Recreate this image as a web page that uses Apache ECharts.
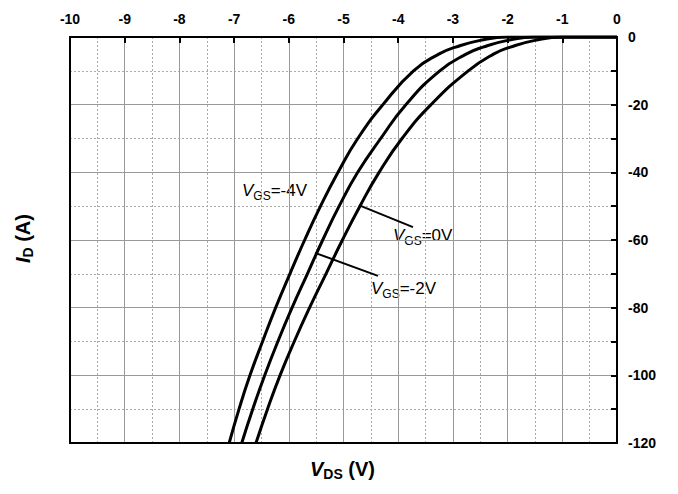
<!DOCTYPE html>
<html>
<head>
<meta charset="utf-8">
<script src="https://cdn.jsdelivr.net/npm/echarts@6/dist/echarts.min.js"></script>
<style>
  html, body { margin: 0; padding: 0; background: #fff; }
  #chart { width: 678px; height: 494px; }
</style>
</head>
<body>
<div id="chart"></div>
<script>
// Drain current levels (A), shared by the three curves
const idLevels = [0, 0, -1, -3, -5, -10, -20, -30, -40, -50, -60, -70, -80, -90, -100, -110, -120];
// V_DS (V) for each gate voltage
const vdsVgs0 = [0, -1.0, -1.5, -1.95, -2.25, -2.72, -3.40, -3.93, -4.35, -4.70, -5.02, -5.32, -5.62, -5.90, -6.16, -6.39, -6.60];
const vdsVgsM2 = [0, -1.5, -2.0, -2.45, -2.75, -3.24, -3.86, -4.32, -4.74, -5.08, -5.38, -5.66, -5.94, -6.20, -6.44, -6.66, -6.86];
const vdsVgsM4 = [0, -2.0, -2.5, -2.95, -3.25, -3.72, -4.28, -4.74, -5.10, -5.42, -5.71, -5.98, -6.24, -6.48, -6.71, -6.91, -7.09];

// leader lines from curve to label, in data units [[x1, y1], [x2, y2]]
const leaderVgs0 = [[-4.72, -49.7], [-3.73, -56.2]];
const leaderVgsM2 = [[-5.52, -63.8], [-4.37, -70.6]];

const font = '"Liberation Sans", Arial, sans-serif';

function pairs(xs) {
    return xs.map((x, i) => [x, idLevels[i]]);
}

function leader(seg) {
    return [[{ coord: seg[0] }, { coord: seg[1] }]];
}

const labelRich = {
    v: { fontFamily: font, fontSize: 17, fontStyle: 'italic', color: '#000', lineHeight: 20, verticalAlign: 'top' },
    s: { fontFamily: font, fontSize: 12, color: '#000', lineHeight: 11, verticalAlign: 'bottom' },
    n: { fontFamily: font, fontSize: 17, color: '#000', lineHeight: 20, verticalAlign: 'top' }
};

const titleRich = {
    v: { fontFamily: font, fontSize: 20, fontStyle: 'italic', fontWeight: 'bold', color: '#000', lineHeight: 22, verticalAlign: 'top' },
    s: { fontFamily: font, fontSize: 14, fontWeight: 'bold', color: '#000', lineHeight: 4, verticalAlign: 'bottom' },
    n: { fontFamily: font, fontSize: 20, fontWeight: 'bold', color: '#000', lineHeight: 22, verticalAlign: 'top' }
};

const chart = echarts.init(document.getElementById('chart'), null, { renderer: 'svg' });

const curveStyle = { color: '#000', width: 3 };

chart.setOption({
    animation: false,
    backgroundColor: '#fff',
    grid: { left: 70, right: 61, top: 37, bottom: 51 },
    xAxis: [
        {
            type: 'value',
            position: 'top',
            min: -10,
            max: 0,
            interval: 1,
            axisLine: { show: true, lineStyle: { color: '#000', width: 2 } },
            axisTick: { show: true, inside: true, length: 6, lineStyle: { color: '#000', width: 2 } },
            axisLabel: { color: '#000', fontFamily: font, fontSize: 14, fontWeight: 'bold', margin: 11 },
            splitLine: { show: true, lineStyle: { color: '#999', width: 1 } },
            minorTick: { show: false, splitNumber: 2 },
            minorSplitLine: { show: true, lineStyle: { color: '#aaa', width: 1, type: [2, 2] } }
        },
        {
            type: 'value',
            position: 'bottom',
            min: -10,
            max: 0,
            axisLine: { show: true, onZero: false, lineStyle: { color: '#000', width: 2 } },
            axisTick: { show: false },
            axisLabel: { show: false },
            splitLine: { show: false }
        }
    ],
    yAxis: [
        {
            type: 'value',
            position: 'right',
            min: -120,
            max: 0,
            interval: 20,
            axisLine: { show: true, lineStyle: { color: '#000', width: 2 } },
            axisTick: { show: true, inside: true, length: 6, lineStyle: { color: '#000', width: 2 } },
            axisLabel: { color: '#000', fontFamily: font, fontSize: 14, fontWeight: 'bold', margin: 11 },
            splitLine: { show: true, lineStyle: { color: '#999', width: 1 } },
            minorTick: { show: true, splitNumber: 2, length: 6, lineStyle: { color: '#000', width: 2 } },
            minorSplitLine: { show: true, lineStyle: { color: '#aaa', width: 1, type: [2, 2] } }
        },
        {
            type: 'value',
            position: 'left',
            min: -120,
            max: 0,
            axisLine: { show: true, onZero: false, lineStyle: { color: '#000', width: 2 } },
            axisTick: { show: false },
            axisLabel: { show: false },
            splitLine: { show: false }
        }
    ],
    series: [
        {
            name: 'VGS=0V',
            type: 'line',
            data: pairs(vdsVgs0),
            smooth: 0.5,
            symbol: 'none',
            lineStyle: curveStyle,
            markLine: {
                silent: true,
                symbol: 'none',
                label: { show: false },
                lineStyle: { color: '#000', width: 2, type: 'solid' },
                data: leader(leaderVgs0)
            }
        },
        {
            name: 'VGS=-2V',
            type: 'line',
            data: pairs(vdsVgsM2),
            smooth: 0.5,
            symbol: 'none',
            lineStyle: curveStyle,
            markLine: {
                silent: true,
                symbol: 'none',
                label: { show: false },
                lineStyle: { color: '#000', width: 2, type: 'solid' },
                data: leader(leaderVgsM2)
            }
        },
        {
            name: 'VGS=-4V',
            type: 'line',
            data: pairs(vdsVgsM4),
            smooth: 0.5,
            symbol: 'none',
            lineStyle: curveStyle
        }
    ],
    graphic: [
        {
            type: 'text', left: 242, top: 182,
            style: { text: '{v|V}{s|GS}{n|=-4V}', rich: labelRich }
        },
        {
            type: 'text', left: 393, top: 227,
            style: { text: '{v|V}{s|GS}{n|=0V}', rich: labelRich }
        },
        {
            type: 'text', left: 371, top: 280,
            style: { text: '{v|V}{s|GS}{n|=-2V}', rich: labelRich }
        },
        {
            type: 'text', left: 310, top: 459,
            style: { text: '{v|V}{s|DS}{n| (V)}', rich: titleRich }
        },
        {
            type: 'text', x: 13, y: 263, rotation: Math.PI / 2,
            style: { text: '{v|I}{s|D}{n| (A)}', rich: titleRich }
        }
    ]
});
</script>
</body>
</html>
